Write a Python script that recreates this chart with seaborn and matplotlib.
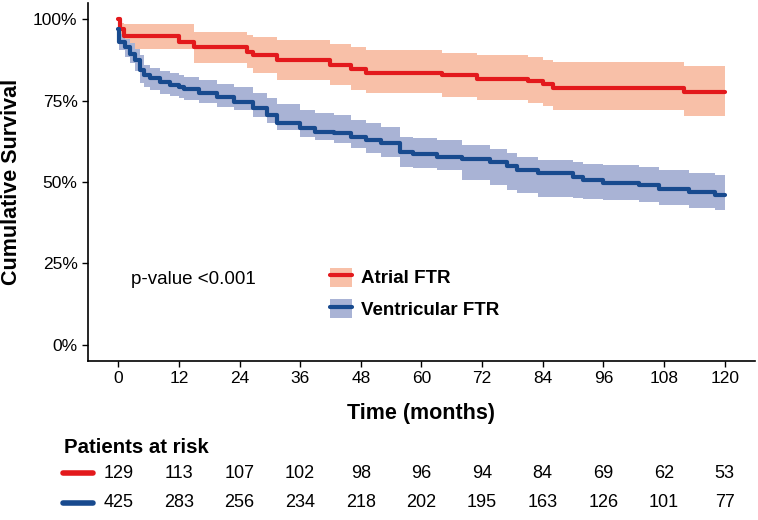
import numpy as np
import pandas as pd
import matplotlib
matplotlib.use("Agg")
import matplotlib.pyplot as plt
import seaborn as sns
from matplotlib.patches import Patch
from matplotlib.lines import Line2D
from matplotlib.transforms import blended_transform_factory

# Kaplan-Meier steps
atrial_t = [0, 0.3, 1.2, 12, 15, 25.5, 26.7, 31.5, 42, 46, 49, 64, 71, 81, 84, 86, 112, 120]
atrial_s = [1.0, 0.97, 0.948, 0.93, 0.915, 0.90, 0.889, 0.874, 0.859, 0.847, 0.836, 0.828, 0.818, 0.810, 0.80, 0.79, 0.777, 0.777]
atrial_lo = [1.0, 0.93, 0.91, 0.91, 0.865, 0.85, 0.834, 0.813, 0.798, 0.782, 0.773, 0.761, 0.752, 0.742, 0.735, 0.721, 0.703, 0.703]
atrial_hi = [1.0, 0.99, 0.985, 0.985, 0.961, 0.951, 0.945, 0.936, 0.925, 0.915, 0.905, 0.898, 0.889, 0.883, 0.876, 0.868, 0.857, 0.857]

vent_t = [0, 0.2, 1.4, 2.4, 3.4, 4.4, 5, 6.3, 8.3, 10.3, 12, 13, 16, 19.5, 23, 26.7, 29.5, 31.5, 36, 39,
          42.6, 46, 49, 52, 55.8, 58.4, 63, 68, 73.6, 77, 79, 83, 90, 92, 96, 103, 107, 113, 118, 120]
vent_s = [0.97, 0.93, 0.914, 0.895, 0.874, 0.844, 0.828, 0.819, 0.807, 0.798, 0.791, 0.785, 0.773, 0.761, 0.746,
          0.727, 0.705, 0.681, 0.666, 0.654, 0.65, 0.638, 0.629, 0.619, 0.592, 0.585, 0.576, 0.57, 0.561, 0.55,
          0.537, 0.527, 0.516, 0.506, 0.497, 0.49, 0.48, 0.47, 0.46, 0.46]
vent_lo = [0.95, 0.905, 0.885, 0.865, 0.84, 0.805, 0.791, 0.782, 0.772, 0.764, 0.758, 0.752, 0.742, 0.732, 0.721,
           0.70, 0.681, 0.66, 0.638, 0.628, 0.619, 0.605, 0.59, 0.577, 0.546, 0.542, 0.537, 0.506, 0.49, 0.475,
           0.465, 0.454, 0.45, 0.447, 0.445, 0.437, 0.429, 0.42, 0.414, 0.414]
vent_hi = [0.985, 0.955, 0.94, 0.926, 0.91, 0.89, 0.859, 0.85, 0.842, 0.835, 0.828, 0.822, 0.813, 0.802, 0.791,
           0.775, 0.758, 0.74, 0.72, 0.712, 0.705, 0.692, 0.68, 0.669, 0.638, 0.634, 0.629, 0.613, 0.60, 0.589,
           0.578, 0.567, 0.56, 0.556, 0.552, 0.545, 0.537, 0.528, 0.521, 0.521]

risk_times = [0, 12, 24, 36, 48, 60, 72, 84, 96, 108, 120]
atrial_risk = [129, 113, 107, 102, 98, 96, 94, 84, 69, 62, 53]
vent_risk = [425, 283, 256, 234, 218, 202, 195, 163, 126, 101, 77]

red = "#E3191C"
red_band = "#F8C0A8"
blue = "#184A8E"
blue_band = "#A9B3D5"

sns.set_style("ticks")
plt.rcParams["font.family"] = ["Liberation Sans", "DejaVu Sans"]
plt.rcParams["text.color"] = "black"
plt.rcParams["axes.labelcolor"] = "black"

df = pd.concat([
    pd.DataFrame({"time": atrial_t, "surv": atrial_s, "group": "Atrial FTR"}),
    pd.DataFrame({"time": vent_t, "surv": vent_s, "group": "Ventricular FTR"}),
])

fig = plt.figure(figsize=(7.58, 5.20), dpi=100)
ax = fig.add_axes([0.116, 0.306, 0.880, 0.688])

ax.fill_between(atrial_t, atrial_lo, atrial_hi, step="post", color=red_band, lw=0)
ax.fill_between(vent_t, vent_lo, vent_hi, step="post", color=blue_band, lw=0)
sns.lineplot(data=df, x="time", y="surv", hue="group", palette=[red, blue],
             drawstyle="steps-post", lw=3, ax=ax, legend=False, estimator=None)

ax.set_xlim(-6, 126)
ax.set_ylim(-0.05, 1.05)
ax.set_xticks(risk_times)
ax.set_yticks([0, 0.25, 0.5, 0.75, 1.0])
ax.set_yticklabels(["0%", "25%", "50%", "75%", "100%"])
ax.tick_params(labelsize=12.5, colors="black", length=4, width=1)
for s in ["left", "bottom"]:
    ax.spines[s].set_linewidth(1.2)
    ax.spines[s].set_color("black")
sns.despine(ax=ax)
ax.set_xlabel("Time (months)", fontsize=15.5, fontweight="bold", labelpad=12)
ax.set_ylabel("Cumulative Survival", fontsize=15.5, fontweight="bold", labelpad=8)

ax.text(2.5, 0.2, "p-value <0.001", fontsize=13.5, va="center")

handles = [(Patch(facecolor=red_band, edgecolor="none"), Line2D([], [], color=red, lw=3)),
           (Patch(facecolor=blue_band, edgecolor="none"), Line2D([], [], color=blue, lw=3))]
ax.legend(handles, ["Atrial FTR", "Ventricular FTR"], loc="upper left",
          bbox_to_anchor=(0.413, 0.518), bbox_transform=fig.transFigure, frameon=False,
          prop={"weight": "bold", "size": 13.5}, handlelength=1.2, handleheight=1.2,
          labelspacing=0.62, handletextpad=0.45)

# risk table
tr = blended_transform_factory(ax.transData, fig.transFigure)
fig.text(0.084, 0.14, "Patients at risk", fontsize=14.7, fontweight="bold", va="center")
for vals, col, y in [(atrial_risk, red, 0.09), (vent_risk, blue, 0.033)]:
    fig.add_artist(Line2D([0.083, 0.123], [y, y], color=col, lw=4, transform=fig.transFigure))
    for t, v in zip(risk_times, vals):
        ax.text(t, y, str(v), transform=tr, ha="center", va="center", fontsize=13, clip_on=False)

fig.savefig("out.png", dpi=100)
